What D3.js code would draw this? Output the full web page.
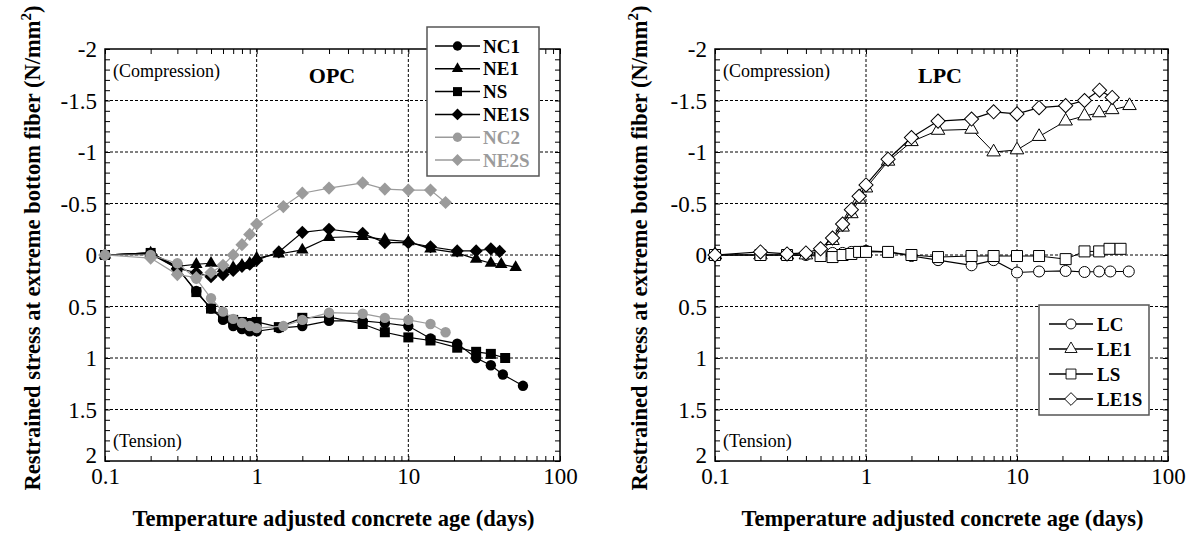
<!DOCTYPE html>
<html><head><meta charset="utf-8">
<script src="https://cdn.jsdelivr.net/npm/d3@7"></script>
<style>
html,body{margin:0;padding:0;background:#fff;}
svg{display:block;}
text{font-family:"Liberation Serif","Times New Roman",serif;}
</style></head>
<body><svg id="c" width="1191" height="534"></svg>
<script>
// ---------- DATA ----------
const yTickLabels = ["-2","-1.5","-1","-0.5","0","0.5","1","1.5","2"];
const yTickValues = [-2,-1.5,-1,-0.5,0,0.5,1,1.5,2];
const xTickLabels = ["0.1","1","10","100"];
const xTickValues = [0.1,1,10,100];

// OPC panel
const nc1Age  = [0.1,0.2,0.3,0.4,0.5,0.6,0.7,0.8,0.9,1.0,1.4,2,3,5,7,10,14,21,28,35,42,57];
const nc1Str  = [0,-0.02,0.13,0.35,0.52,0.63,0.69,0.72,0.74,0.74,0.71,0.69,0.64,0.64,0.66,0.69,0.81,0.86,1.0,1.07,1.16,1.27];
const ne1Age  = [0.1,0.2,0.3,0.4,0.5,0.6,0.7,0.8,0.9,1.0,1.4,2,3,5,7,10,14,21,28,35,41,51];
const ne1Str  = [0,-0.02,0.11,0.09,0.08,0.13,0.12,0.10,0.08,0.03,-0.01,-0.05,-0.17,-0.18,-0.15,-0.13,-0.06,-0.02,0.04,0.08,0.09,0.12];
const nsAge   = [0.1,0.2,0.3,0.4,0.5,0.6,0.7,0.8,0.9,1.0,1.4,2,3,5,7,10,14,21,28,35,43.5];
const nsStr   = [0,-0.02,0.12,0.36,0.52,0.60,0.63,0.65,0.66,0.65,0.70,0.61,0.60,0.67,0.75,0.80,0.83,0.90,0.94,0.96,1.0];
const ne1sAge = [0.1,0.2,0.3,0.4,0.5,0.6,0.7,0.8,0.9,1.0,1.4,2,3,5,7,10,14,21,28,35,40];
const ne1sStr = [0,-0.01,0.13,0.17,0.21,0.19,0.15,0.11,0.09,0.05,-0.03,-0.22,-0.25,-0.21,-0.12,-0.12,-0.08,-0.04,-0.04,-0.06,-0.035];
const nc2Age  = [0.1,0.2,0.3,0.4,0.5,0.6,0.7,0.8,0.9,1.0,1.5,2,3,5,7,10,14,17.6];
const nc2Str  = [0,0,0.08,0.23,0.42,0.55,0.62,0.66,0.69,0.71,0.69,0.63,0.56,0.57,0.61,0.63,0.67,0.75];
const ne2sAge = [0.1,0.2,0.3,0.4,0.5,0.6,0.7,0.8,0.9,1.0,1.5,2,3,5,7,10,14,17.6];
const ne2sStr = [0,0.03,0.19,0.22,0.17,0.10,0.0,-0.10,-0.20,-0.30,-0.47,-0.60,-0.65,-0.70,-0.64,-0.63,-0.63,-0.51];

// LPC panel
const lcAge   = [0.1,0.2,0.3,0.4,0.5,0.6,0.7,0.8,0.9,1.0,1.4,2,3,5,7,10,14,21,28,35,41.5,55];
const lcStr   = [0,0,0,0,0,-0.02,-0.02,-0.03,-0.03,-0.04,-0.03,0.01,0.05,0.10,0.05,0.17,0.16,0.155,0.165,0.16,0.16,0.16];
const le1Age  = [0.1,0.2,0.3,0.4,0.5,0.6,0.7,0.8,0.9,1.0,1.4,2,3,5,7,10,14,21,28,35,42.7,55.6];
const le1Str  = [0,0,0,0,-0.04,-0.14,-0.27,-0.40,-0.54,-0.65,-0.91,-1.10,-1.21,-1.22,-1.0,-1.02,-1.15,-1.30,-1.35,-1.38,-1.41,-1.45];
const lsAge   = [0.1,0.2,0.3,0.5,0.6,0.7,0.8,0.9,1.0,1.4,2,3,5,7,10,14,21,28,35,41,48.5];
const lsStr   = [0,0,0,0.01,0.02,0,-0.01,-0.03,-0.03,-0.03,0,0.02,0.01,0.01,0.01,0.01,0.04,-0.035,-0.035,-0.06,-0.06];
const le1sAge = [0.1,0.2,0.3,0.4,0.5,0.6,0.7,0.8,0.9,1.0,1.4,2,3,5,7,10,14,21,28,35.2,42.7];
const le1sStr = [0,-0.03,-0.01,-0.02,-0.06,-0.165,-0.30,-0.44,-0.57,-0.68,-0.93,-1.14,-1.30,-1.32,-1.39,-1.37,-1.43,-1.45,-1.50,-1.60,-1.53];

// ---------- DRAWING ----------
const svg = d3.select("#c");
const Y0 = 49, Y1 = 461;
const GRAY = "#9b9b9b";

const symCircle = (r)=>d3.symbol().type(d3.symbolCircle).size(Math.PI*r*r)();
const symTri = (s)=>d3.symbol().type(d3.symbolTriangle).size(Math.sqrt(3)/4*s*s)();
const symSq = (s)=>d3.symbol().type(d3.symbolSquare).size(s*s)();

function markerPath(kind, big){
  if(kind==="circle") return {d: symCircle(big?5.5:5.2), rot:0};
  if(kind==="triangle") return {d: symTri(big?13.5:12.5), rot:0};
  if(kind==="square") return {d: symSq(big?11:10), rot:0};
  return {d: symSq(big?10:9.3), rot:45};
}

function panel(cfg){
  const x = d3.scaleLog().domain([0.1,100]).range([cfg.x0,cfg.x1]);
  const y = d3.scaleLinear().domain([-2,2]).range([Y0,Y1]);
  const g = svg.append("g");

  // grid
  const grid = g.append("g").attr("stroke","#000").attr("stroke-width",1).attr("stroke-dasharray","3,2");
  grid.selectAll("line.gx").data([1,10]).join("line")
    .attr("x1",d=>x(d)).attr("x2",d=>x(d)).attr("y1",Y0).attr("y2",Y1);
  grid.selectAll("line.gy").data([-1.5,-1,-0.5,0,0.5,1,1.5]).join("line")
    .attr("x1",cfg.x0).attr("x2",cfg.x1).attr("y1",d=>y(d)).attr("y2",d=>y(d));

  // minor ticks
  const yMinor = d3.range(-20,21).map(v=>v/10);
  const xMinor = [];
  [0.1,1,10].forEach(dec=>{ for(let k=1;k<=9;k++) xMinor.push(dec*k); });
  xMinor.push(100);
  const tickStyle = sel=>{ sel.select(".domain").remove(); sel.selectAll("line").attr("stroke","#000").attr("stroke-width",1); };
  g.append("g").attr("transform",`translate(${cfg.x0},0)`).call(d3.axisLeft(y).tickValues(yMinor).tickSize(-5).tickFormat("")).call(tickStyle);
  g.append("g").attr("transform",`translate(${cfg.x1},0)`).call(d3.axisRight(y).tickValues(yMinor).tickSize(-5).tickFormat("")).call(tickStyle);
  g.append("g").attr("transform",`translate(0,${Y0})`).call(d3.axisTop(x).tickValues(xMinor).tickSize(-5).tickFormat("")).call(tickStyle);
  g.append("g").attr("transform",`translate(0,${Y1})`).call(d3.axisBottom(x).tickValues(xMinor).tickSize(-5).tickFormat("")).call(tickStyle);

  // tick labels
  const yl = g.append("g").attr("transform",`translate(${cfg.x0},0)`)
    .call(d3.axisLeft(y).tickValues(yTickValues).tickSize(0).tickPadding(8).tickFormat((d,i)=>yTickLabels[i]));
  yl.select(".domain").remove();
  yl.selectAll("text").attr("font-size",23).attr("fill","#000").attr("dy",(d)=>d===2?"0.05em":"0.33em");
  const xl = g.append("g").attr("transform",`translate(0,${Y1})`)
    .call(d3.axisBottom(x).tickValues(xTickValues).tickSize(0).tickPadding(7).tickFormat((d,i)=>xTickLabels[i]));
  xl.select(".domain").remove();
  xl.selectAll("text").attr("font-size",23).attr("fill","#000");

  // frame
  g.append("rect").attr("x",cfg.x0).attr("y",Y0).attr("width",cfg.x1-cfg.x0).attr("height",Y1-Y0)
    .attr("fill","none").attr("stroke","#000").attr("stroke-width",1.5);

  // annotations
  g.append("text").attr("x",cfg.x0+8).attr("y",77).attr("font-size",18).text("(Compression)");
  g.append("text").attr("x",cfg.x0+8).attr("y",447).attr("font-size",18).text("(Tension)");
  g.append("text").attr("x",cfg.titleX).attr("y",83).attr("font-size",22).attr("font-weight","bold")
    .attr("text-anchor","middle").text(cfg.title);

  // axis titles
  g.append("text").attr("x",(cfg.x0+cfg.x1)/2 + 1).attr("y",526).attr("font-size",22.5).attr("font-weight","bold")
    .attr("text-anchor","middle").text("Temperature adjusted concrete age (days)");
  const yt = g.append("text").attr("transform",`translate(${cfg.yTitleX},248) rotate(-90)`)
    .attr("font-size",22.5).attr("font-weight","bold").attr("text-anchor","middle");
  yt.append("tspan").text("Restrained stress at extreme bottom fiber (N/mm");
  yt.append("tspan").attr("dy",-9).attr("font-size",15).text("2");
  yt.append("tspan").attr("dy",9).text(")");

  // series
  const line = d3.line().x(d=>x(d[0])).y(d=>y(d[1]));
  const sg = g.append("g");
  cfg.series.forEach(s=>{
    const pts = s.age.map((a,i)=>[a,s.str[i]]);
    sg.append("path").datum(pts).attr("d",line).attr("fill","none")
      .attr("stroke",s.color).attr("stroke-width",s.lw);
    const m = markerPath(s.marker, cfg.open);
    sg.append("g").selectAll("path").data(pts).join("path")
      .attr("d",m.d)
      .attr("transform",d=>`translate(${x(d[0])},${y(d[1])}) rotate(${m.rot})`)
      .attr("fill",cfg.open?"#fff":s.color)
      .attr("stroke",cfg.open?"#000":"none").attr("stroke-width",1);
  });

  // legend
  const L = cfg.legend;
  const lg = g.append("g");
  lg.append("rect").attr("x",L.x).attr("y",L.y).attr("width",L.w).attr("height",L.h)
    .attr("fill","#fff").attr("stroke","#555").attr("stroke-width",1.5);
  cfg.series.forEach((s,i)=>{
    const cy = L.row0 + i*L.dy;
    lg.append("line").attr("x1",L.lx0).attr("x2",L.lx1).attr("y1",cy).attr("y2",cy)
      .attr("stroke",s.color).attr("stroke-width",s.lw+0.3);
    const m = markerPath(s.marker, cfg.open);
    lg.append("path").attr("d",m.d).attr("transform",`translate(${(L.lx0+L.lx1)/2},${cy}) rotate(${m.rot}) scale(0.9)`)
      .attr("fill",cfg.open?"#fff":s.color).attr("stroke",cfg.open?"#000":"none").attr("stroke-width",1);
    lg.append("text").attr("x",L.tx).attr("y",cy+6.5).attr("font-size",19).attr("font-weight","bold")
      .attr("fill",s.color==="#000"?"#000":GRAY).text(s.name);
  });
}

panel({
  x0:105, x1:560, title:"OPC", titleX:332, yTitleX:40, open:false,
  series:[
    {name:"NC1", age:nc1Age, str:nc1Str, marker:"circle", color:"#000", lw:1.2},
    {name:"NE1", age:ne1Age, str:ne1Str, marker:"triangle", color:"#000", lw:1.2},
    {name:"NS", age:nsAge, str:nsStr, marker:"square", color:"#000", lw:1.2},
    {name:"NE1S", age:ne1sAge, str:ne1sStr, marker:"diamond", color:"#000", lw:1.2},
    {name:"NC2", age:nc2Age, str:nc2Str, marker:"circle", color:GRAY, lw:1.2},
    {name:"NE2S", age:ne2sAge, str:ne2sStr, marker:"diamond", color:GRAY, lw:1.2}
  ],
  legend:{x:427,y:27,w:112,h:149,row0:46,dy:22.8,lx0:435,lx1:480,tx:483}
});
panel({
  x0:715, x1:1168, title:"LPC", titleX:940, yTitleX:647, open:true,
  series:[
    {name:"LC", age:lcAge, str:lcStr, marker:"circle", color:"#000", lw:1.2},
    {name:"LE1", age:le1Age, str:le1Str, marker:"triangle", color:"#000", lw:1.0},
    {name:"LS", age:lsAge, str:lsStr, marker:"square", color:"#000", lw:1.0},
    {name:"LE1S", age:le1sAge, str:le1sStr, marker:"diamond", color:"#000", lw:1.2}
  ],
  legend:{x:1039,y:305,w:110,h:110,row0:324,dy:25,lx0:1049,lx1:1093,tx:1097}
});
</script></body></html>
